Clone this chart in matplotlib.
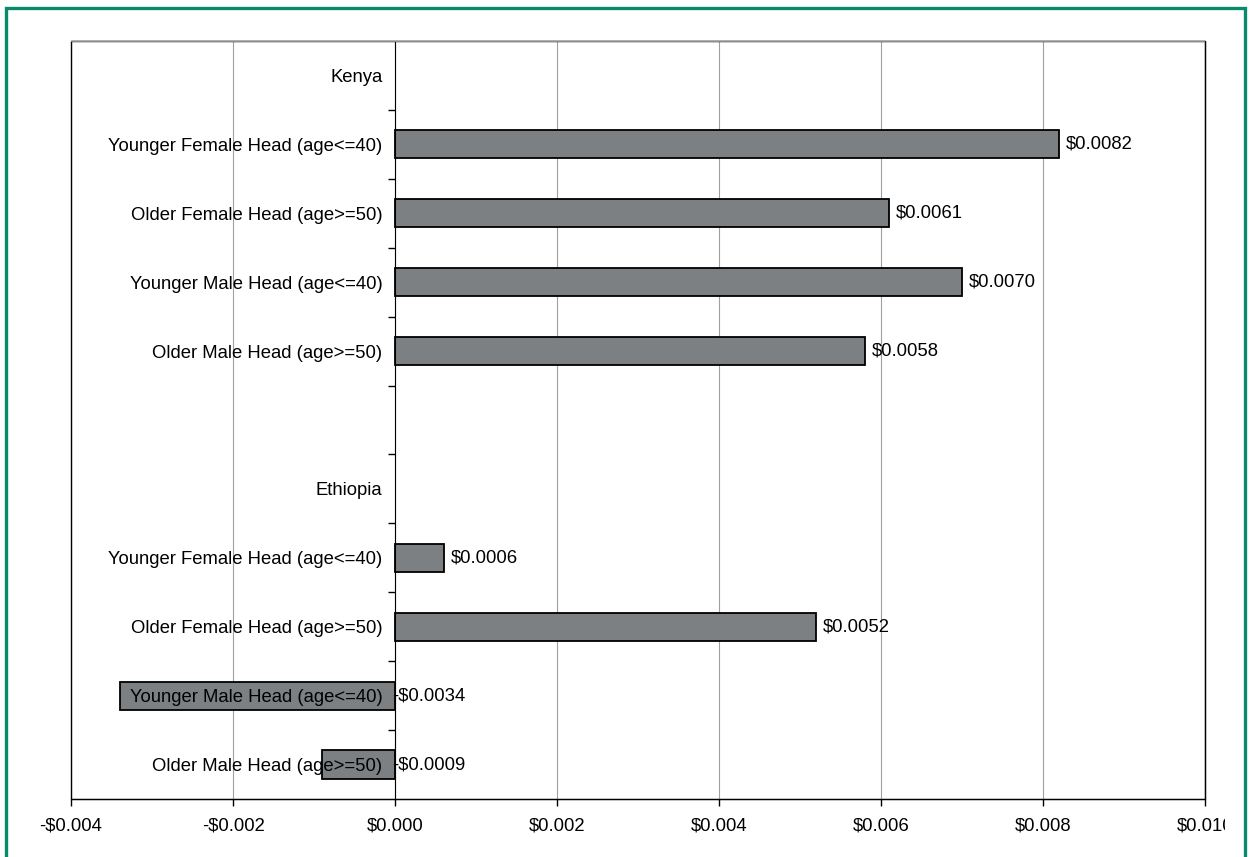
import matplotlib.pyplot as plt
from matplotlib.patches import Rectangle
from matplotlib.ticker import FuncFormatter, FixedLocator
from matplotlib.transforms import Bbox, TransformedBbox

plt.rcParams['font.family'] = ['Liberation Sans', 'DejaVu Sans']

# category slots, top to bottom (blank slot between the two countries)
categories = ['Kenya',
              'Younger Female Head (age<=40)',
              'Older Female Head (age>=50)',
              'Younger Male Head (age<=40)',
              'Older Male Head (age>=50)',
              '',
              'Ethiopia',
              'Younger Female Head (age<=40)',
              'Older Female Head (age>=50)',
              'Younger Male Head (age<=40)',
              'Older Male Head (age>=50)']
values = [None, 0.0082, 0.0061, 0.0070, 0.0058, None,
          None, 0.0006, 0.0052, -0.0034, -0.0009]
xticks = [-0.004, -0.002, 0.0, 0.002, 0.004, 0.006, 0.008, 0.010]

FS = 13.3

fig = plt.figure(figsize=(12.49, 8.57), dpi=100)
fig.set_facecolor('white')
ax = fig.add_axes([71 / 1249, 1 - 799 / 857, (1205 - 71) / 1249, (799 - 41) / 857])

pos = list(range(len(categories)))
for i, v in enumerate(values):
    if v is None:
        continue
    ax.barh(i, v, height=0.41, color='#7d8083', edgecolor='black', linewidth=1.3, zorder=3)
    if v >= 0:
        ax.annotate('$%.4f' % v, (v, i), xytext=(5, 0), textcoords='offset points',
                    va='center', ha='left', fontsize=FS, zorder=5)
    else:
        ax.annotate('-$%.4f' % abs(v), (0, i), xytext=(-2, 0), textcoords='offset points',
                    va='center', ha='left', fontsize=FS, zorder=5)

ax.set_xlim(-0.004, 0.010)
ax.set_ylim(len(categories) - 0.5, -0.5)
ax.set_xticks(xticks)
ax.xaxis.set_major_formatter(FuncFormatter(
    lambda x, p: ('-$%.3f' % abs(x)) if x < -1e-12 else '$%.3f' % abs(x)))
ax.tick_params(axis='x', length=5, width=1, labelsize=FS, pad=8, direction='out')
ax.grid(axis='x', color='#a0a0a0', linewidth=0.8)
ax.xaxis.set_zorder(1)

# y axis sits at zero, ticks between the categories, labels over the bars
for s in ['right', 'bottom']:
    ax.spines[s].set_color('black')
ax.spines['top'].set_color('#aaaaaa')
ax.spines['left'].set_position(('data', 0))
ax.spines['left'].set_zorder(4)
ax.add_patch(Rectangle((0, 0), 1, 1, transform=ax.transAxes, fill=False,
                       ec='black', lw=1.0, clip_on=False, zorder=4))
ax.add_patch(Rectangle((0, 1), 1, 0, transform=ax.transAxes, fill=False,
                       ec='#aaaaaa', lw=1.2, clip_on=False, zorder=5))
ax.yaxis.set_major_locator(FixedLocator(pos))
ax.set_yticklabels(categories)
ax.yaxis.set_minor_locator(FixedLocator([p + 0.5 for p in pos[:-1]]))
ax.tick_params(axis='y', which='major', length=0, pad=9, labelsize=FS)
ax.tick_params(axis='y', which='minor', length=5, width=1, direction='out')
ax.yaxis.set_zorder(4)

# outer green frame
fig.patches.append(Rectangle((5.5 / 1249, -0.05), 1239.5 / 1249, 1.05 - 8.5 / 857,
                             transform=fig.transFigure, fill=False,
                             ec='#0a8a6b', lw=2.4))

# last x tick label is cut by the chart area
fig.canvas.draw()
clip = TransformedBbox(Bbox([[0, 0], [1225 / 1249, 1]]), fig.transFigure)
for lbl in ax.get_xticklabels():
    lbl.set_clip_box(clip)
    lbl.set_clip_on(True)

fig.savefig('out.png', dpi=100, facecolor='white')
